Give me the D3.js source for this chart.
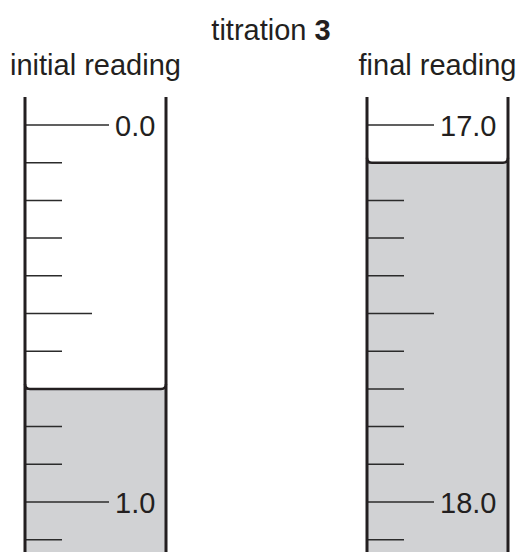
<!DOCTYPE html>
<html>
<head>
<meta charset="utf-8">
<script src="https://cdn.jsdelivr.net/npm/d3@7"></script>
<style>
  body { margin: 0; background: #fff; }
  text { font-family: "Liberation Sans", Arial, Helvetica, sans-serif; fill: #231f20; }
</style>
</head>
<body>
<div id="chart"></div>
<script>
// Readings taken from the two burettes
const panelLabels = ["initial reading", "final reading"];
const scaleStarts = [0.0, 17.0];      // value at the labelled top graduation
const readings = [0.70, 17.10];       // liquid level (bottom of meniscus)
const tickLabels = [["0.0", "1.0"], ["17.0", "18.0"]];
const titleText = "titration";
const titleNumber = "3";

// Layout
const width = 518, height = 552;
const tubeLeft = [25, 367];
const tubeWidth = 141;
const tubeTop = 97;
const longTick = [84, 67];   // length of the whole-number graduation
const halfTick = 67, minorTick = 37;
const cornerR = 5;
const fontSize = "29px";

const svg = d3.select("#chart")
  .append("svg")
    .attr("width", width)
    .attr("height", height);

// Title
const title = svg.append("text")
    .attr("x", 271)
    .attr("y", 40)
    .attr("text-anchor", "middle")
    .style("font-size", fontSize)
    .text(titleText + " ");
title.append("tspan")
    .style("font-weight", "bold")
    .text(titleNumber);

panelLabels.forEach((label, i) => {
  const x0 = tubeLeft[i], x1 = x0 + tubeWidth;
  const start = scaleStarts[i];

  // 0.1 cm3 per graduation, one whole unit spans 377px
  const y = d3.scaleLinear()
      .domain([start, start + 1])
      .range([125, 502]);

  const g = svg.append("g");

  // panel heading
  svg.append("text")
      .attr("x", (x0 + x1) / 2)
      .attr("y", 75)
      .attr("text-anchor", "middle")
      .style("font-size", fontSize)
      .text(label);

  // liquid below the meniscus
  const ly = y(readings[i]);
  g.append("rect")
      .attr("x", x0)
      .attr("y", ly)
      .attr("width", tubeWidth)
      .attr("height", height - ly)
      .attr("fill", "#d1d2d4");

  // graduations
  const ticks = d3.range(0, 12).map(k => +(start + k / 10).toFixed(1));
  g.selectAll("line.tick")
    .data(ticks)
    .join("line")
      .attr("class", "tick")
      .attr("x1", x0)
      .attr("x2", (d, k) => x0 + (k % 10 === 0 ? longTick[i] : k === 5 ? halfTick : minorTick))
      .attr("y1", d => y(d))
      .attr("y2", d => y(d))
      .attr("stroke", "#2b2b2b")
      .attr("stroke-width", 1.5);

  g.selectAll("text.lbl")
    .data(tickLabels[i])
    .join("text")
      .attr("class", "lbl")
      .attr("x", x0 + longTick[i] + 6)
      .attr("y", (d, k) => y(start + k) + 10.5)
      .style("font-size", fontSize)
      .text(d => d);

  // meniscus
  g.append("path")
      .attr("d", `M${x0},${ly - cornerR} Q${x0},${ly} ${x0 + cornerR},${ly} L${x1 - cornerR},${ly} Q${x1},${ly} ${x1},${ly - cornerR}`)
      .attr("fill", "none")
      .attr("stroke", "#231f20")
      .attr("stroke-width", 2.5);

  // tube walls
  [x0, x1].forEach(wx => {
    g.append("line")
        .attr("x1", wx).attr("x2", wx)
        .attr("y1", tubeTop).attr("y2", height)
        .attr("stroke", "#231f20")
        .attr("stroke-width", 3);
  });
});
</script>
</body>
</html>
